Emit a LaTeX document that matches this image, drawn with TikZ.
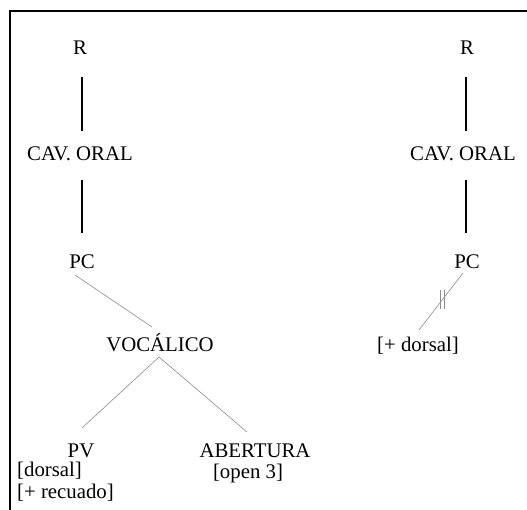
\documentclass[tikz,border=0pt]{standalone}
\usepackage{fontspec}
\setmainfont{Liberation Serif}
\begin{document}
\begin{tikzpicture}[x=1pt,y=-1pt,
  lbl/.style={inner sep=0pt,anchor=base,font=\fontsize{20.8}{21.5}\selectfont},
  stem/.style={line width=1.6pt,black},
  branch/.style={line width=0.6pt,black!45},
  frameline/.style={line width=2pt,black}]
\useasboundingbox (0,0) rectangle (527,510);
\draw[frameline] (10,510) -- (10,11) -- (527,11);
% left tree
\node[lbl] (R1) at (80,55) {R};
\node[lbl] (C1) at (80,161) {CAV. ORAL};
\node[lbl] (P1) at (82,269) {PC};
\node[lbl] (V1) at (160,352) {VOCÁLICO};
\node[lbl] (PV) at (81,457) {PV};
\node[lbl] (AB) at (255,457) {ABERTURA};
\node[lbl,anchor=base west,align=left] (DS) at (17,498) {[dorsal]\\\relax[+ recuado]};
\node[lbl] (OP) at (248,478) {[open 3]};
\draw[stem] ([shift={(2,22)}]R1.base) -- ([shift={(2,-30)}]C1.base);
\draw[stem] ([shift={(2,19)}]C1.base) -- ([shift={(0,-36)}]P1.base);
\draw[branch] ([shift={(-7,6)}]P1.base) -- ([shift={(-8,-25)}]V1.base);
\draw[branch] ([shift={(-1,5)}]V1.base) -- ([shift={(1,-29)}]PV.base);
\draw[branch] ([shift={(-1,5)}]V1.base) -- ([shift={(-8,-25)}]AB.base);
% right tree
\node[lbl] (R2) at (467,55) {R};
\node[lbl] (C2) at (463,161) {CAV. ORAL};
\node[lbl] (P2) at (467,269) {PC};
\node[lbl] (D2) at (418,352) {[+ dorsal]};
\draw[stem] ([shift={(-1,22)}]R2.base) -- ([shift={(3,-30)}]C2.base);
\draw[stem] ([shift={(3,19)}]C2.base) -- ([shift={(-1,-36)}]P2.base);
\draw[branch] ([shift={(-4,4)}]P2.base) -- ([shift={(1,-22)}]D2.base)
  coordinate[pos=0.46] (cut);
\draw[branch] ([shift={(-2,-9)}]cut) -- ([shift={(-2,10)}]cut);
\draw[branch] ([shift={(2,-9)}]cut) -- ([shift={(2,10)}]cut);
\end{tikzpicture}
\end{document}
